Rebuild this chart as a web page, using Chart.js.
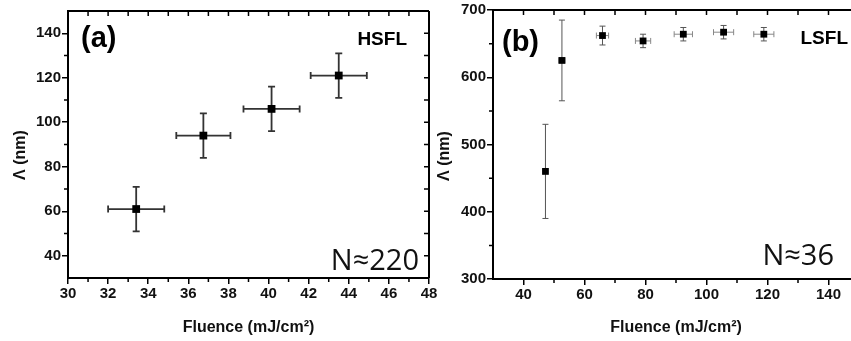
<!DOCTYPE html>
<html><head><meta charset="utf-8">
<script src="https://cdn.jsdelivr.net/npm/chart.js@4"></script>
<style>
html,body{margin:0;padding:0;background:#fff;overflow:hidden;width:851px;height:341px;position:relative}
canvas{position:absolute;top:0}
#ca{left:0}
#cb{left:425px}
</style></head><body>
<canvas id="ca" width="460" height="341"></canvas>
<canvas id="cb" width="455" height="341"></canvas>
<script>
// ---- Panel (a): HSFL ----
const fluenceA = [33.4, 36.75, 40.15, 43.5];
const periodA = [61, 94, 106, 121];
const fluenceErrA = [1.4, 1.35, 1.4, 1.4];
const periodErrA = [10, 10, 10, 10];
const xTicksA = [30, 32, 34, 36, 38, 40, 42, 44, 46, 48];
const yTicksA = [40, 60, 80, 100, 120, 140];

// ---- Panel (b): LSFL ----
const fluenceB = [47.2, 52.6, 65.9, 79.2, 92.4, 105.6, 118.8];
const periodB = [460, 625, 662, 654, 664, 667, 664];
const fluenceErrB = [0.6, 1.0, 2.0, 2.5, 3.0, 3.3, 3.3];
const periodErrB = [70, 60, 14, 10, 10, 10, 10];
const xTicksB = [40, 60, 80, 100, 120, 140];
const yTicksB = [300, 400, 500, 600, 700];

const TICK_FONT = {family: "'Liberation Sans', Arial, sans-serif", weight: 'bold', size: 15};

function makePlugin(o) {
  return {
    id: 'extras',
    beforeDatasetsDraw(chart) {
      const {ctx, scales: {x, y}} = chart;
      ctx.save();
      o.fx.forEach((fv, i) => {
        const pv = o.py[i];
        const px = x.getPixelForValue(fv), py = y.getPixelForValue(pv);
        const x1 = x.getPixelForValue(fv - o.ex[i]), x2 = x.getPixelForValue(fv + o.ex[i]);
        const y1 = y.getPixelForValue(pv - o.ey[i]), y2 = y.getPixelForValue(pv + o.ey[i]);
        ctx.lineWidth = o.errW;
        ctx.strokeStyle = o.errXColor;
        ctx.beginPath(); ctx.moveTo(x1, py); ctx.lineTo(x2, py);
        ctx.moveTo(x1, py - o.cap); ctx.lineTo(x1, py + o.cap);
        ctx.moveTo(x2, py - o.cap); ctx.lineTo(x2, py + o.cap);
        ctx.stroke();
        ctx.strokeStyle = o.errYColor;
        ctx.beginPath(); ctx.moveTo(px, y1); ctx.lineTo(px, y2);
        ctx.moveTo(px - o.cap, y1); ctx.lineTo(px + o.cap, y1);
        ctx.moveTo(px - o.cap, y2); ctx.lineTo(px + o.cap, y2);
        ctx.stroke();
      });
      ctx.restore();
    },
    afterDraw(chart) {
      const {ctx, chartArea: a, scales: {x, y}} = chart;
      ctx.save();
      ctx.strokeStyle = '#000';
      ctx.lineWidth = 2;
      ctx.beginPath();
      ctx.moveTo(a.left, a.top); ctx.lineTo(a.right, a.top);
      if (o.rightBorder) { ctx.moveTo(a.right, a.top); ctx.lineTo(a.right, a.bottom); }
      ctx.stroke();
      ctx.lineWidth = 1.5;
      ctx.beginPath();
      for (let v = x.min; v <= x.max + 1e-9; v += o.xMinor) {
        const p = x.getPixelForValue(v);
        const isMajor = o.xMajor.includes(Math.round(v * 100) / 100);
        if (!isMajor && p > a.left + 1) { ctx.moveTo(p, a.bottom); ctx.lineTo(p, a.bottom + 4); }
        if (p > a.left + 1 && p < a.right - 1) { ctx.moveTo(p, a.top); ctx.lineTo(p, a.top + 5); }
      }
      for (let v = y.min; v <= y.max + 1e-9; v += o.yMinor) {
        const p = y.getPixelForValue(v);
        const isMajor = o.yMajor.includes(Math.round(v * 100) / 100);
        if (!isMajor && p < a.bottom - 1 && p > a.top + 1) { ctx.moveTo(a.left, p); ctx.lineTo(a.left - 4, p); }
        if (o.rightBorder && p < a.bottom - 1 && p > a.top + 1) { ctx.moveTo(a.right, p); ctx.lineTo(a.right - 5, p); }
      }
      ctx.stroke();
      ctx.fillStyle = '#111';
      ctx.font = "bold 16px 'Liberation Sans', Arial, sans-serif";
      ctx.textAlign = 'center'; ctx.textBaseline = 'middle';
      ctx.save();
      ctx.translate(o.yTitleX, o.yTitleY);
      ctx.rotate(-Math.PI / 2);
      ctx.fillText('Λ (nm)', 0, 0);
      ctx.restore();
      ctx.textBaseline = 'alphabetic';
      ctx.textAlign = 'left';
      ctx.font = "bold 29px 'Liberation Sans', Arial, sans-serif";
      ctx.fillStyle = '#000';
      ctx.fillText(o.tag, o.tagX, o.tagY);
      ctx.textAlign = 'right';
      ctx.font = "bold 19px 'Liberation Sans', Arial, sans-serif";
      ctx.fillText(o.name, o.nameX, o.nameY);
      ctx.font = "29px 'Open Sans', sans-serif";
      ctx.fillStyle = '#111';
      ctx.fillText(o.count, o.countX, o.countY);
      ctx.restore();
    }
  };
}

function makeChart(id, o) {
  return new Chart(document.getElementById(id), {
    type: 'scatter',
    data: {datasets: [{
      data: o.fx.map((v, i) => ({x: v, y: o.py[i]})),
      pointStyle: 'rect', pointRadius: o.pr, pointHoverRadius: o.pr,
      backgroundColor: '#000', borderColor: '#000', borderWidth: 0, showLine: false
    }]},
    options: {
      responsive: false, animation: false, events: [],
      layout: {padding: o.padding},
      plugins: {legend: {display: false}, tooltip: {enabled: false}},
      scales: {
        x: {
          type: 'linear', min: o.xMin, max: o.xMax,
          afterBuildTicks: s => { s.ticks = o.xMajor.map(v => ({value: v})); },
          afterFit: s => { s.height = o.xAxisH; },
          ticks: {font: TICK_FONT, color: '#111', padding: 1, maxRotation: 0, autoSkip: false},
          grid: {display: true, drawOnChartArea: false, drawTicks: true, tickLength: 6, color: '#000', lineWidth: 1.5},
          border: {display: true, color: '#000', width: 2},
          title: {display: true, text: 'Fluence (mJ/cm²)', color: '#111',
                  font: {family: "'Liberation Sans', Arial, sans-serif", weight: 'bold', size: 16},
                  padding: {top: 0, bottom: 4}}
        },
        y: {
          type: 'linear', min: o.yMin, max: o.yMax,
          afterBuildTicks: s => { s.ticks = o.yMajor.map(v => ({value: v})); },
          afterFit: s => { s.width = o.yAxisW; },
          ticks: {font: TICK_FONT, color: '#111', padding: 1, autoSkip: false},
          grid: {display: true, drawOnChartArea: false, drawTicks: true, tickLength: 6, color: '#000', lineWidth: 1.5},
          border: {display: true, color: '#000', width: 2}
        }
      }
    },
    plugins: [makePlugin(o)]
  });
}

makeChart('ca', {
  fx: fluenceA, py: periodA, ex: fluenceErrA, ey: periodErrA,
  xMin: 30, xMax: 48, yMin: 30, yMax: 150, xMajor: xTicksA, yMajor: yTicksA,
  xMinor: 1, yMinor: 10, rightBorder: true,
  padding: {left: 0, right: 31, top: 11, bottom: 0}, xAxisH: 63, yAxisW: 68,
  pr: 5.5, errW: 1.8, cap: 3.5, errXColor: '#333', errYColor: '#333',
  yTitleX: 21, yTitleY: 155,
  tag: '(a)', tagX: 81, tagY: 47, name: 'HSFL', nameX: 407, nameY: 45,
  count: 'N≈220', countX: 419, countY: 270
});

makeChart('cb', {
  fx: fluenceB, py: periodB, ex: fluenceErrB, ey: periodErrB,
  xMin: 30, xMax: 150, yMin: 300, yMax: 700, xMajor: xTicksB, yMajor: yTicksB,
  xMinor: 10, yMinor: 50, rightBorder: true,
  padding: {left: 0, right: 21, top: 9, bottom: 0}, xAxisH: 62, yAxisW: 68,
  pr: 4.8, errW: 1, cap: 3, errXColor: '#888', errYColor: '#555',
  yTitleX: 20, yTitleY: 156,
  tag: '(b)', tagX: 77, tagY: 51, name: 'LSFL', nameX: 423, nameY: 44,
  count: 'N≈36', countX: 409, countY: 265
});
</script>
</body></html>
